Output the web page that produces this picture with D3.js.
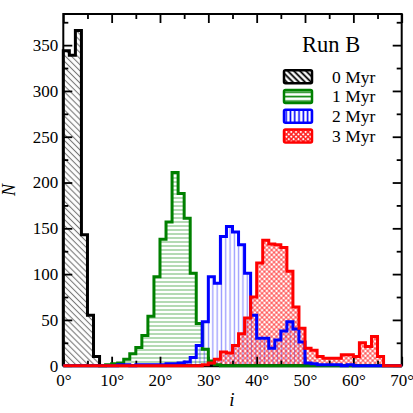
<!DOCTYPE html>
<html><head><meta charset="utf-8">
<script src="https://cdn.jsdelivr.net/npm/d3@7"></script>
<style>
html,body{margin:0;padding:0;background:#fff;}
svg{display:block;}
svg text{font-family:"Liberation Serif","Times New Roman",serif !important;}
</style></head>
<body><svg id="chart" width="413" height="413"></svg>
<script>
// ---- data ----
const binStart = 0, binWidth = 1.25;
const run0 = [344,339,366,143,55,10,0,0,0,0,0,0,0,0,0,0,0,0,0,0,0,0,0,0,0,0,0,0,0,0,0,0,0,0,0,0,0,0,0,0,0,0,0,0,0,0,0,0,0,0,0,0,0,0,0,0];
const run1 = [0,0,0,0,0,0,0,1,2,3,7,13,20,33,54,97,138,157,211,188,161,101,46,18,5,1,0,0,0,0,0,0,0,0,0,0,0,0,0,0,0,0,0,0,0,0,0,0,0,0,0,0,0,0,0,0];
const run2 = [0,0,0,0,0,0,0,0,0,1,1,0,1,1,1,1,1,2,2,3,4,9,22,48,97,90,141,152,146,132,101,55,30,30,19,28,38,48,40,26,3,2,1,1,1,1,0,1,0,0,0,0,0,0,0,0];
const run3 = [0,0,0,0,0,0,0,0,0,0,0,0,0,0,0,0,0,0,0,0,0,0,0,1,3,7,15,14,22,35,52,75,112,137,133,132,129,103,64,41,19,17,10,8,8,8,12,12,10,25,21,32,10,0,0,0];
const seriesNames = ["0 Myr","1 Myr","2 Myr","3 Myr"];
const xTicks = [0,10,20,30,40,50,60,70];
const yTicks = [0,50,100,150,200,250,300,350];
const xDomain = [0,70], yDomain = [0,384];

// ---- layout ----
const svg = d3.select("#chart");
const L = 63.3, R = 401.7, T = 14, B = 365.7;
const x = d3.scaleLinear(xDomain,[L,R]);
const y = d3.scaleLinear(yDomain,[B,T]);

const defs = svg.append("defs");
function linePattern(id, spacing, angle, color, width){
  const p = defs.append("pattern").attr("id",id).attr("patternUnits","userSpaceOnUse")
    .attr("width",spacing).attr("height",spacing)
    .attr("patternTransform",`rotate(${angle})`);
  p.append("line").attr("x1",spacing/2).attr("y1",-1).attr("x2",spacing/2).attr("y2",spacing+1)
    .attr("stroke",color).attr("stroke-width",width);
}
linePattern("hBlack",4.3,-45,"#777",1.1);
linePattern("hGreen",4.0,90,"rgba(0,128,0,0.45)",1.3);
linePattern("hBlue",4.3,0,"rgba(0,0,255,0.4)",1.3);
linePattern("hRedA",3.4,45,"rgba(255,0,0,0.5)",1.3);
linePattern("hRedB",3.4,-45,"rgba(255,0,0,0.5)",1.3);
// legend versions (bolder)
linePattern("lBlack",4.3,-45,"#000",1.8);
linePattern("lGreen",4.5,90,"#008000",1.6);
linePattern("lBlue",4.3,0,"#0000ff",1.6);
linePattern("lRedA",3.4,45,"#ff2020",1.5);
linePattern("lRedB",3.4,-45,"#ff2020",1.5);

defs.append("clipPath").attr("id","plotClip").append("rect")
  .attr("x",L).attr("y",T).attr("width",R-L).attr("height",B-T);

const series = [
  {vals:run0, color:"#000000", fills:["hBlack"], lfills:["lBlack"]},
  {vals:run1, color:"#008000", fills:["hGreen"], lfills:["lGreen"]},
  {vals:run2, color:"#0000ff", fills:["hBlue"], lfills:["lBlue"]},
  {vals:run3, color:"#ff0000", fills:["hRedA","hRedB"], lfills:["lRedA","lRedB"]}
];

function stepPoints(vals){
  const pts = [[binStart,0]];
  vals.forEach((v,i)=>pts.push([binStart+i*binWidth, v]));
  pts.push([binStart+vals.length*binWidth, vals[vals.length-1]]);
  pts.push([binStart+vals.length*binWidth, 0]);
  return pts;
}
const stepLine = d3.line().x(d=>x(d[0])).y(d=>y(d[1])).curve(d3.curveStepAfter);
const stepArea = d3.area().x(d=>x(d[0])).y0(y(0)).y1(d=>y(d[1])).curve(d3.curveStepAfter);

const gFill = svg.append("g").attr("clip-path","url(#plotClip)");
series.forEach(s=>{
  s.fills.forEach(f=>{
    gFill.append("path").attr("d",stepArea(stepPoints(s.vals))).attr("fill",`url(#${f})`);
  });
});

// ---- axes ----
const axisG = svg.append("g");
function styleAxis(g){
  g.attr("font-family",null);
  g.select(".domain").remove();
  g.selectAll(".tick line").attr("stroke","#000").attr("stroke-width",1.8);
  g.selectAll("text").attr("font-size",17).attr("fill","#000");
}
const xMinor = d3.range(5,70,10);
const yMinor = d3.range(25,384,50);
// bottom
axisG.append("g").attr("transform",`translate(0,${B})`)
  .call(d3.axisBottom(x).tickValues(xTicks).tickSize(-9).tickPadding(8).tickFormat(d=>d+"°")).call(styleAxis);
axisG.append("g").attr("transform",`translate(0,${B})`)
  .call(d3.axisBottom(x).tickValues(xMinor).tickSize(-5).tickFormat("")).call(styleAxis);
// top
axisG.append("g").attr("transform",`translate(0,${T})`)
  .call(d3.axisTop(x).tickValues(xTicks).tickSize(-9).tickFormat("")).call(styleAxis);
axisG.append("g").attr("transform",`translate(0,${T})`)
  .call(d3.axisTop(x).tickValues(xMinor).tickSize(-5).tickFormat("")).call(styleAxis);
// left
axisG.append("g").attr("transform",`translate(${L},0)`)
  .call(d3.axisLeft(y).tickValues(yTicks).tickSize(-9).tickPadding(5)).call(styleAxis);
axisG.append("g").attr("transform",`translate(${L},0)`)
  .call(d3.axisLeft(y).tickValues(yMinor).tickSize(-5).tickFormat("")).call(styleAxis);
// right
axisG.append("g").attr("transform",`translate(${R},0)`)
  .call(d3.axisRight(y).tickValues(yTicks).tickSize(-9).tickFormat("")).call(styleAxis);
axisG.append("g").attr("transform",`translate(${R},0)`)
  .call(d3.axisRight(y).tickValues(yMinor).tickSize(-5).tickFormat("")).call(styleAxis);
// frame
svg.append("rect").attr("x",L).attr("y",T).attr("width",R-L).attr("height",B-T)
  .attr("fill","none").attr("stroke","#000").attr("stroke-width",2);

// outlines
const gLine = svg.append("g");
series.forEach(s=>{
  gLine.append("path").attr("d",stepLine(stepPoints(s.vals)))
    .attr("fill","none").attr("stroke",s.color).attr("stroke-width",3)
    .attr("stroke-linejoin","miter");
});

// axis labels
svg.append("text").attr("transform","translate(15,190) rotate(-90)")
  .attr("text-anchor","middle").attr("font-style","italic").attr("font-size",18).text("N");
svg.append("text").attr("x",232).attr("y",406)
  .attr("text-anchor","middle").attr("font-style","italic").attr("font-size",19).text("i");

// legend
svg.append("text").attr("x",302).attr("y",52).attr("font-size",22.5).text("Run B");
const legY = [76.7,96.4,116.2,136];
series.forEach((s,i)=>{
  const g = svg.append("g").attr("transform",`translate(284,${legY[i]-6.5})`);
  g.append("rect").attr("width",28).attr("height",13).attr("fill","#fff");
  s.lfills.forEach(f=>g.append("rect").attr("width",28).attr("height",13).attr("fill",`url(#${f})`));
  g.append("rect").attr("width",28).attr("height",13).attr("rx",1.5)
    .attr("fill","none").attr("stroke",s.color).attr("stroke-width",2.5);
  svg.append("text").attr("x",332).attr("y",legY[i]+6).attr("font-size",17.5).text(seriesNames[i]);
});
</script></body></html>
